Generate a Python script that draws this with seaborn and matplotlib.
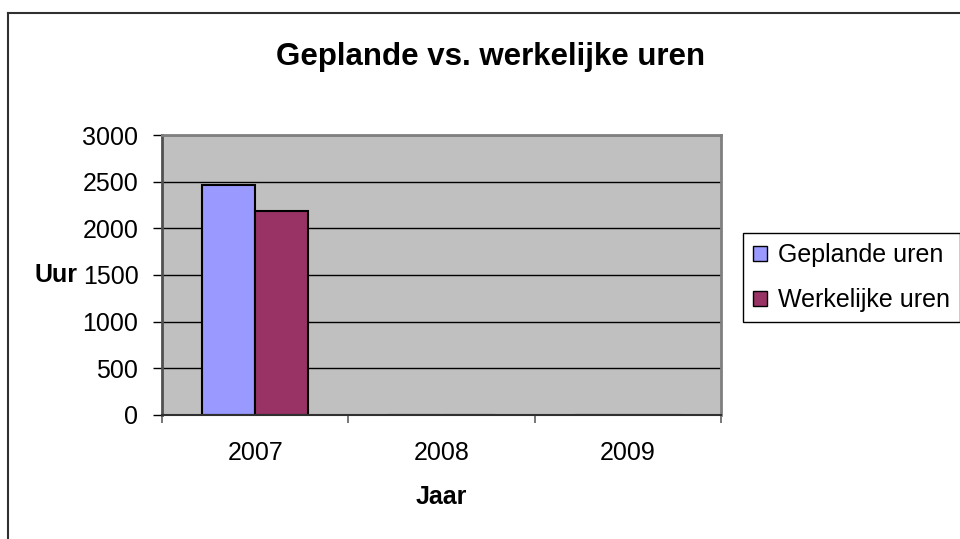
import pandas as pd
import matplotlib.pyplot as plt
from matplotlib.lines import Line2D
from matplotlib.patches import Patch
import seaborn as sns

jaren = ["2007", "2008", "2009"]
geplande = [2460, 0, 0]
werkelijke = [2190, 0, 0]
series = ["Geplande uren", "Werkelijke uren"]
kleuren = {"Geplande uren": "#9999FF", "Werkelijke uren": "#993366"}

df = pd.DataFrame({
    "Jaar": jaren * 2,
    "Serie": [series[0]] * 3 + [series[1]] * 3,
    "Uur": geplande + werkelijke,
})

plt.rcParams["font.family"] = ["Liberation Sans", "DejaVu Sans"]

fig = plt.figure(figsize=(9.6, 5.39), dpi=100)
ax = fig.add_axes([162 / 960, 1 - 415 / 539, 559 / 960, 280 / 539])
ax.set_facecolor("#C0C0C0")

sns.barplot(data=df, x="Jaar", y="Uur", hue="Serie", order=jaren, hue_order=series,
            palette=kleuren, saturation=1, width=0.57, edgecolor="black", linewidth=1.5,
            errorbar=None, legend=False, ax=ax)

ax.set_xlim(-0.5, 2.5)
ax.set_ylim(0, 3000)
ax.set_yticks(range(0, 3001, 500))
ax.yaxis.grid(True, color="black", linewidth=1)
ax.set_axisbelow(True)

# tick marks between the years, labels in the middle
ax.set_xticks([-0.5, 0.5, 1.5, 2.5], minor=True)
ax.tick_params(axis="x", which="major", length=0, pad=19, labelsize=18)
ax.tick_params(axis="x", which="minor", length=6, width=1.2, color="#606060")
ax.tick_params(axis="y", length=6.5, width=1, pad=10.5, labelsize=18)

for side in ["top", "right"]:
    ax.spines[side].set_color("#808080")
    ax.spines[side].set_linewidth(2)
ax.spines["left"].set_color("#505050")
ax.spines["left"].set_linewidth(2)
ax.spines["bottom"].set_color("#303030")
ax.spines["bottom"].set_linewidth(1.5)

ax.set_ylabel("Uur", rotation=0, fontsize=18, fontweight="bold", ha="center", va="center")
ax.yaxis.set_label_coords(-0.19, 0.5)
ax.set_xlabel("Jaar", fontsize=18, fontweight="bold", va="center")
ax.xaxis.set_label_coords(0.5, -0.293)

fig.text(491 / 960, 1 - 65 / 539, "Geplande vs. werkelijke uren", fontsize=22.5,
         fontweight="bold", ha="center", va="baseline")

handles = [Patch(facecolor=kleuren[s], edgecolor="black", linewidth=1) for s in series]
leg = fig.legend(handles, series, loc="upper left",
                 bbox_to_anchor=(743 / 960, 1 - 233 / 539), bbox_transform=fig.transFigure,
                 borderaxespad=0, fontsize=18, handlelength=0.55, handleheight=0.55,
                 handletextpad=0.45, labelspacing=0.85, borderpad=0.4,
                 fancybox=False, framealpha=1, edgecolor="black")
leg.get_frame().set_linewidth(1)

# outer chart border (cut off at right and bottom)
fig.add_artist(Line2D([8 / 960, 1.01], [1 - 13 / 539, 1 - 13 / 539], color="#303030",
                      linewidth=1.5, transform=fig.transFigure))
fig.add_artist(Line2D([8 / 960, 8 / 960], [1 - 13 / 539, -0.01], color="#303030",
                      linewidth=1.5, transform=fig.transFigure))

plt.savefig("out.png", dpi=100)
